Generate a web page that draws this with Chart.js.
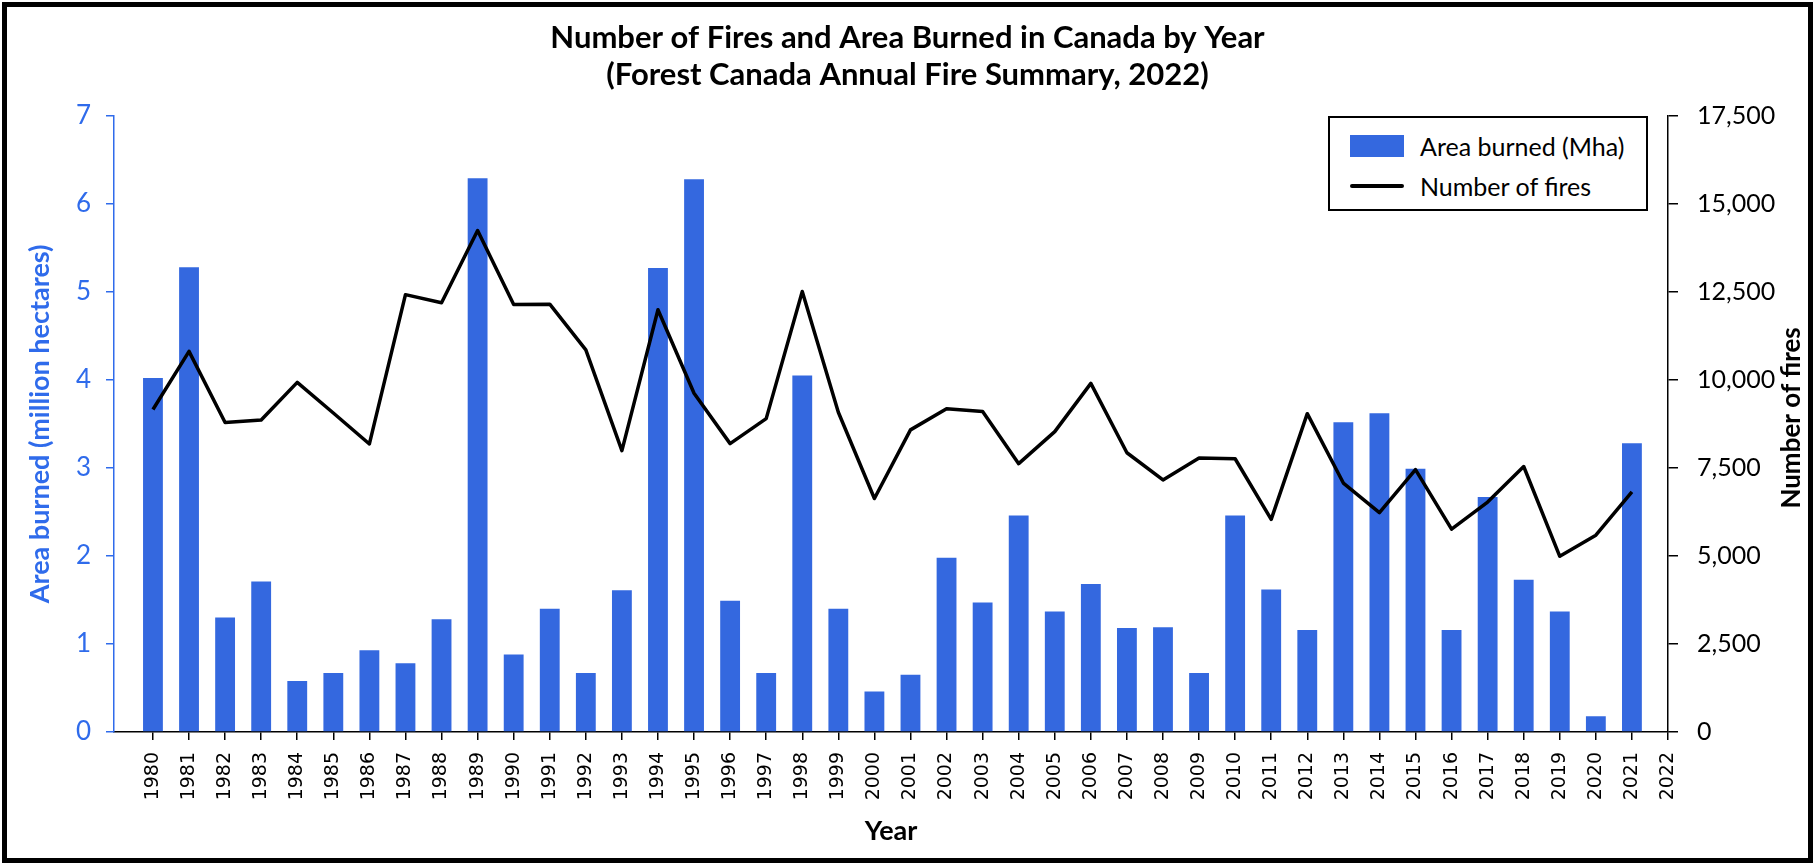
<!DOCTYPE html>
<html>
<head>
<meta charset="utf-8">
<title>Number of Fires and Area Burned in Canada by Year</title>
<script src="https://cdn.jsdelivr.net/npm/chart.js@4.4.1/dist/chart.umd.min.js"></script>
<style>
  html, body { margin: 0; padding: 0; width: 1815px; height: 867px; overflow: hidden; background: #fff; }
  #chart { position: absolute; left: 0; top: 0; }
  .frame { position: absolute; left: 2px; top: 2px; width: 1801px; height: 851px; border: 5px solid #000; pointer-events: none; }
  .legend { position: absolute; left: 1328px; top: 116px; width: 316px; height: 91px; border: 2px solid #000; background: #fff;
            font-family: Lato, sans-serif; font-size: 25px; color: #000; }
  .legend .row { position: absolute; left: 20px; height: 30px; display: flex; align-items: center; white-space: nowrap; }
  .legend .swatch { width: 54px; margin-right: 16px; }
</style>
</head>
<body>
<canvas id="chart" width="1815" height="867"></canvas>
<div class="frame"></div>
<div class="legend">
  <div class="row" style="top:13px"><span class="swatch" style="height:22px;background:#3468DF"></span>Area burned (Mha)</div>
  <div class="row" style="top:53px"><span class="swatch" style="height:4px;background:#000;border-radius:2px"></span>Number of fires</div>
</div>
<script>
// === DATA ===
const years = [1980, 1981, 1982, 1983, 1984, 1985, 1986, 1987, 1988, 1989,
  1990, 1991, 1992, 1993, 1994, 1995, 1996, 1997, 1998, 1999,
  2000, 2001, 2002, 2003, 2004, 2005, 2006, 2007, 2008, 2009,
  2010, 2011, 2012, 2013, 2014, 2015, 2016, 2017, 2018, 2019,
  2020, 2021, 2022];

// million hectares
const areaBurned = [4.02, 5.28, 1.30, 1.71, 0.58, 0.67, 0.93, 0.78, 1.28, 6.29,
  0.88, 1.40, 0.67, 1.61, 5.27, 6.28, 1.49, 0.67, 4.05, 1.40,
  0.46, 0.65, 1.98, 1.47, 2.46, 1.37, 1.68, 1.18, 1.19, 0.67,
  2.46, 1.62, 1.16, 3.52, 3.62, 2.99, 1.16, 2.67, 1.73, 1.37,
  0.18, 3.28, null];

const numberOfFires = [9160, 10810, 8790, 8860, 9930, 9060, 8180, 12420, 12190, 14240,
  12140, 12150, 10850, 7990, 11990, 9620, 8190, 8900, 12510, 9080,
  6630, 8580, 9180, 9100, 7620, 8530, 9900, 7930, 7160, 7780,
  7760, 6040, 9040, 7070, 6230, 7450, 5760, 6530, 7540, 4990,
  5590, 6820, null];

const areaTicks = [0, 1, 2, 3, 4, 5, 6, 7];
const fireTicks = [0, 2500, 5000, 7500, 10000, 12500, 15000, 17500];

const BLUE_BAR = '#3468DF';
const BLUE_AXIS = '#2F6BEB';

Chart.defaults.font.family = 'Lato, sans-serif';
Chart.defaults.color = '#000';

// secondary axis title reads bottom-to-top, so draw it ourselves
const rightTitle = {
  id: 'rightTitle',
  afterDraw(chart) {
    const { ctx, chartArea } = chart;
    const axis = chart.scales.y1;
    ctx.save();
    ctx.translate(axis.right - 23, (chartArea.top + chartArea.bottom) / 2 - 6);
    ctx.rotate(-Math.PI / 2);
    ctx.font = 'bold 26px Lato, sans-serif';
    ctx.fillStyle = '#000';
    ctx.textAlign = 'center';
    ctx.textBaseline = 'middle';
    ctx.fillText('Number of fires', 0, 0);
    ctx.restore();
  }
};

new Chart(document.getElementById('chart').getContext('2d'), {
  type: 'bar',
  data: {
    datasets: [{
      type: 'line',
      label: 'Number of fires',
      data: years.map((yr, i) => ({ x: yr, y: numberOfFires[i] })),
      borderColor: '#000',
      borderWidth: 3.5,
      borderJoinStyle: 'round',
      pointRadius: 0,
      tension: 0,
      yAxisID: 'y1',
      order: 0
    }, {
      label: 'Area burned (Mha)',
      data: years.map((yr, i) => ({ x: yr, y: areaBurned[i] })),
      backgroundColor: BLUE_BAR,
      categoryPercentage: 1,
      barPercentage: 0.55,
      yAxisID: 'y',
      order: 1
    }]
  },
  options: {
    responsive: false,
    animation: false,
    layout: { padding: 0 },
    plugins: {
      legend: { display: false },
      tooltip: { enabled: false },
      title: {
        display: true,
        text: ['Number of Fires and Area Burned in Canada by Year', '(Forest Canada Annual Fire Summary, 2022)'],
        font: { size: 31, weight: 'bold', lineHeight: 1.19 },
        color: '#000',
        padding: { top: 20, bottom: 22 }
      }
    },
    scales: {
      x: {
        type: 'linear',
        position: 'bottom',
        offset: false,
        min: 1978.92,
        max: 2022,
        bounds: 'ticks',
        afterBuildTicks: (axis) => { axis.ticks = axis.ticks.filter(t => t.value >= years[0]); },
        afterFit: (axis) => { axis.height = 135; },
        border: { color: '#000', width: 1.5 },
        grid: { drawOnChartArea: false, drawTicks: true, tickLength: 8, color: '#000', lineWidth: 1.5, offset: false },
        ticks: {
          stepSize: 1,
          includeBounds: false,
          autoSkip: false,
          minRotation: 90,
          maxRotation: 90,
          padding: 12,
          color: '#000',
          font: { family: 'DejaVu Sans', size: 19 },
          callback: (v) => String(v)
        },
        title: {
          display: true,
          text: 'Year',
          font: { size: 27, weight: 'bold' },
          color: '#000',
          padding: { top: 0, bottom: 20 }
        }
      },
      y: {
        position: 'left',
        min: areaTicks[0],
        max: areaTicks[areaTicks.length - 1],
        afterFit: (axis) => { axis.width = 114; },
        border: { color: BLUE_AXIS, width: 1.5 },
        grid: { drawOnChartArea: false, tickLength: 8, color: BLUE_AXIS, lineWidth: 1.5 },
        ticks: { stepSize: 1, padding: 15, color: BLUE_AXIS, font: { size: 26 } },
        title: {
          display: true,
          text: 'Area burned (million hectares)',
          color: BLUE_AXIS,
          font: { size: 27, weight: 'bold' },
          padding: { top: 24, bottom: 0 }
        }
      },
      y1: {
        position: 'right',
        min: fireTicks[0],
        max: fireTicks[fireTicks.length - 1],
        afterFit: (axis) => { axis.width = 147; },
        border: { color: '#000', width: 1.5 },
        grid: { drawOnChartArea: false, tickLength: 10, color: '#000', lineWidth: 1.5 },
        ticks: {
          stepSize: 2500,
          padding: 19,
          color: '#000',
          font: { size: 25 },
          callback: (v) => v.toLocaleString('en-US')
        }
      }
    }
  },
  plugins: [rightTitle]
});
</script>
</body>
</html>
